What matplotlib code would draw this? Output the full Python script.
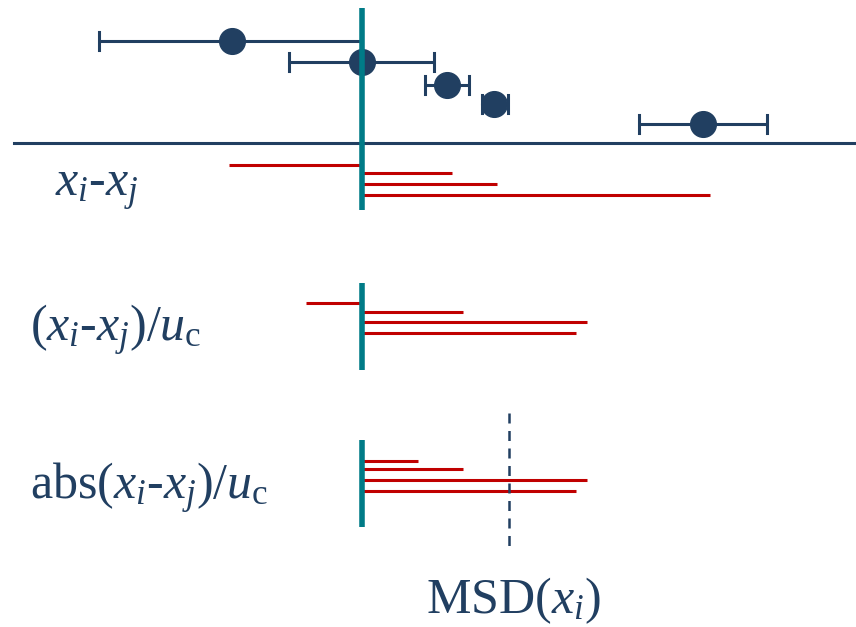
import matplotlib.pyplot as plt

plt.rcParams['font.family'] = 'Liberation Serif'
plt.rcParams['mathtext.fontset'] = 'custom'
plt.rcParams['mathtext.rm'] = 'Liberation Serif'
plt.rcParams['mathtext.it'] = 'Liberation Serif:italic'

navy = '#213f61'
teal = '#007b87'
red = '#c00000'

# results of the labs (x position) and their uncertainties
x_ref = 362
x_vals = [232, 362, 447, 494, 703]
x_lo = [99, 289, 425, 482, 639]
x_hi = [362, 434, 469, 508, 767]
rows = [41, 62, 85, 104, 124]

# x_i - x_j, (x_i - x_j)/u_c, abs(x_i - x_j)/u_c, as offsets from x_i
diff = [-133, 90, 135, 348]
diff_rows = [165, 173, 184, 195]
scaled = [-56, 101, 225, 214]
scaled_rows = [303, 312, 322, 333]
abs_scaled = [56, 101, 225, 214]
abs_rows = [461, 469, 480, 491]
msd = 147

fig = plt.figure(figsize=(8.56, 6.27), dpi=100)
ax = fig.add_axes([0, 0, 1, 1])
ax.set_xlim(0, 856)
ax.set_ylim(627, 0)
ax.axis('off')

# top panel: points with error bars
for xv, lo, hi, r in zip(x_vals, x_lo, x_hi, rows):
    ax.plot([lo, hi], [r, r], color=navy, lw=2.2, solid_capstyle='butt')
    ax.plot([lo, lo], [r - 9, r + 9], color=navy, lw=2.2)
    ax.plot([hi, hi], [r - 9, r + 9], color=navy, lw=2.2)
    ax.plot(xv, r, 'o', color=navy, ms=18.5)
ax.plot([14, 856], [143, 143], color=navy, lw=2.2)

def bars(offsets, ys):
    for d, y in zip(offsets, ys):
        ax.plot([x_ref, x_ref + d], [y, y], color=red, lw=2.2, solid_capstyle='butt')

bars(diff, diff_rows)
ax.plot([x_ref, x_ref], [8, 210], color=teal, lw=4, solid_capstyle='butt')

bars(scaled, scaled_rows)
ax.plot([x_ref, x_ref], [283, 370], color=teal, lw=4, solid_capstyle='butt')

bars(abs_scaled, abs_rows)
ax.plot([x_ref, x_ref], [440, 527], color=teal, lw=4, solid_capstyle='butt')
ax.plot([x_ref + msd, x_ref + msd], [413, 548], color=navy, lw=1.8, ls=(0, (4, 3)))

fs = 36
ax.text(55, 190, r'$x_i$-$x_j$', fontsize=fs, color=navy, va='center')
ax.text(30, 330, r'$(x_i$-$x_j)/u_\mathrm{c}$', fontsize=fs, color=navy, va='center')
ax.text(30, 488, r'abs$(x_i$-$x_j)/u_\mathrm{c}$', fontsize=fs, color=navy, va='center')
ax.text(513, 601, r'MSD$(x_i)$', fontsize=fs, color=navy, ha='center', va='center')

fig.savefig('out.png', dpi=100)
